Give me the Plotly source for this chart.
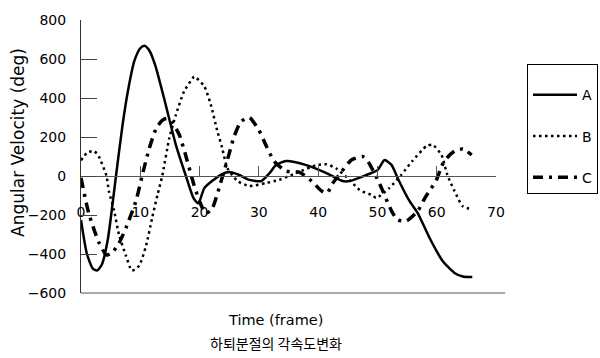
import plotly.graph_objects as go

# ---- data ----
t_a = [0, 1, 2, 2.7, 3.5, 4.5, 5.9, 7, 8, 9, 10, 10.7, 11.5, 12.5, 14, 16, 17.7, 19, 19.8,
       20.8, 22.1, 23.8, 25, 26.7, 28.4, 30.4, 31.8, 32.9, 34.6, 38, 41.4, 44.1, 45.3, 48.1,
       50, 51.2, 52.4, 53.4, 55.4, 56.8, 58.8, 61, 63, 64.4, 66]
v_a = [-225, -400, -475, -485, -455, -330, 0, 260, 450, 590, 655, 668, 645, 570, 400, 160, 0, -115, -140,
       -62, -26, 10, 20, 5, -20, -26, 15, 56, 77, 56, 15, -26, -26, 5,
       30, 82, 56, -10, -128, -190, -318, -436, -497, -515, -518]

t_b = [0, 1, 2.2, 3, 4.3, 4.7, 5.6, 6.4, 7.6, 8.6, 9.8, 11, 12, 12.9, 13.7, 14.9, 16, 17.4, 18.8,
       19.1, 20.8, 21.9, 23, 23.8, 24.7, 26.4, 28.4, 31.2, 33.4, 36.3, 39.7, 41.4, 43, 45.3, 47,
       49.2, 49.8, 52, 54, 55.9, 58.3, 59.3, 60.8, 61.8, 63, 64.4, 66]
v_b = [80, 118, 128, 100, 0, -77, -180, -300, -410, -485, -460, -355, -215, -97, 0, 195, 313, 435, 500,
       510, 460, 365, 230, 145, 40, -26, -51, -36, -20, 15, 56, 60, 40, -20, -72,
       -100, -113, -62, 5, 77, 154, 160, 108, 5, -77, -155, -172]

t_c = [0, 1.3, 3, 4.3, 5.2, 6.4, 7.6, 9.3, 10.3, 11.5, 12.7, 13.7, 14.5, 15.5, 16.6, 17.9, 19, 20,
       21, 22, 23.6, 25, 25.8, 27, 28.4, 30, 31.4, 32.6, 34.6, 36.8, 38.9, 40.5, 41.5, 42.4, 43.9,
       45.6, 47.5, 48.3, 50.3, 52.4, 53.4, 54.9, 56.8, 58, 59.1, 60.1, 60.8, 61.7, 63, 64.4, 65.9]
v_c = [-10, -190, -340, -405, -395, -345, -265, -125, 0, 140, 245, 285, 295, 270, 210, 80, -40, -130,
       -190, -175, -30, 115, 200, 280, 300, 235, 145, 75, 25, 20, -26, -75, -88, -40, 20,
       82, 100, 80, -35, -180, -225, -230, -180, -113, -62, -10, 50, 92, 128, 138, 108]

series_names = ["A", "B", "C"]
y_ticks = [-600, -400, -200, 0, 200, 400, 600, 800]
x_ticks = [0, 10, 20, 30, 40, 50, 60, 70]
y_range = [-600, 800]
x_range = [0, 70]

x_title = "Time (frame)"
caption = "하퇴분절의 각속도변화"
y_title = "Angular Velocity (deg)"

FONT = "DejaVu Sans"

fig = go.Figure()
fig.add_trace(go.Scatter(x=t_a, y=v_a, name=series_names[0], mode="lines", legendgroup="a",
                         line=dict(color="black", width=2.5, shape="spline", smoothing=0.6)))
fig.add_trace(go.Scatter(x=t_b, y=v_b, name=series_names[1], mode="lines", legendgroup="b",
                         line=dict(color="black", width=2.5, dash="2.5px,3.5px", shape="spline", smoothing=0.6)))
fig.add_trace(go.Scatter(x=t_c, y=v_c, name=series_names[2], mode="lines", legendgroup="c",
                         line=dict(color="black", width=3.5, dash="10px,6px,3px,6px", shape="spline", smoothing=0.6)))

zero_pos = (0 - y_range[0]) / (y_range[1] - y_range[0])

fig.update_layout(
    width=600, height=358,
    margin=dict(l=81, r=104, t=20, b=65, autoexpand=False),
    paper_bgcolor="white", plot_bgcolor="white",
    font=dict(family=FONT, size=14, color="black"),
    xaxis=dict(range=x_range, tickvals=x_ticks, anchor="free", position=zero_pos,
               showline=True, linecolor="#555", linewidth=1,
               ticks="inside", ticklen=10, tickcolor="#555", tickwidth=1,
               ticklabelstandoff=23, showgrid=False, zeroline=False,
               tickfont=dict(family=FONT, size=14)),
    yaxis=dict(range=y_range, tickvals=y_ticks, showline=True, linecolor="#333", linewidth=1,
               ticks="inside", ticklen=16, tickcolor="#444", tickwidth=1,
               ticklabelstandoff=11, showgrid=False, zeroline=False,
               tickfont=dict(family=FONT, size=14)),
    showlegend=True,
    legend=dict(x=1.0747, y=0.839, xanchor="left", yanchor="top",
                bordercolor="black", borderwidth=1, bgcolor="white",
                traceorder="grouped", tracegroupgap=20, itemwidth=44,
                title=dict(text=" ", font=dict(size=11)),
                font=dict(family=FONT, size=14)),
    shapes=[dict(type="line", xref="paper", yref="paper", x0=0, x1=1.022, y0=0, y1=0,
                 line=dict(color="#555", width=1))],
    annotations=[
        dict(text=x_title, xref="paper", yref="paper", x=0.4675, y=-0.099,
             showarrow=False, font=dict(family=FONT, size=14.5), xanchor="center", yanchor="middle"),
        dict(text=caption, xref="paper", yref="paper", x=0.47, y=-0.183,
             showarrow=False, font=dict(family="Noto Sans CJK KR", size=14), xanchor="center", yanchor="middle"),
        dict(text=y_title, xref="paper", yref="paper", x=-0.152, y=0.553, textangle=-90,
             showarrow=False, font=dict(family=FONT, size=17), xanchor="center", yanchor="middle"),
    ],
)

fig.write_html("out.html")
